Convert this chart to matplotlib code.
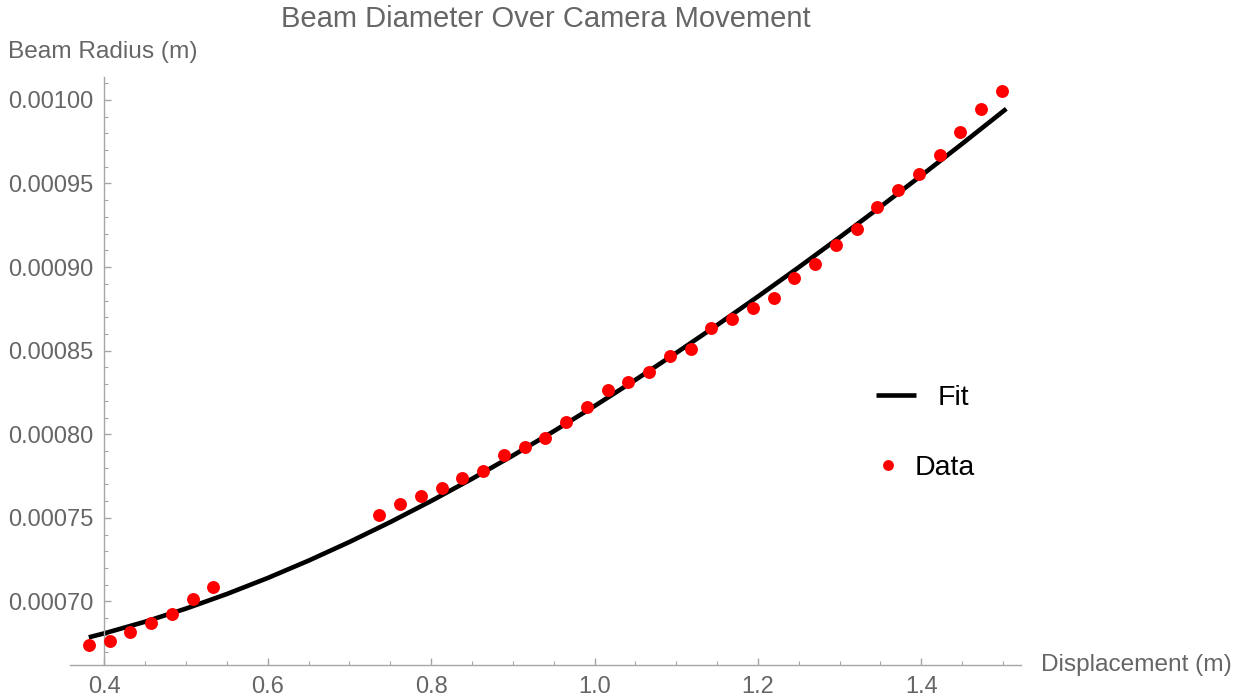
import numpy as np
import matplotlib
matplotlib.use("Agg")
import matplotlib.pyplot as plt
from matplotlib.ticker import MultipleLocator, FormatStrFormatter

plt.rcParams['font.family'] = ['Liberation Sans', 'DejaVu Sans']

# measured beam radius vs camera displacement
disp = [0.3810, 0.4064, 0.4318, 0.4572, 0.4826, 0.5080, 0.5334,
        0.7366, 0.7620, 0.7874, 0.8128, 0.8382, 0.8636, 0.8890, 0.9144,
        0.9398, 0.9652, 0.9906, 1.0160, 1.0414, 1.0668, 1.0922, 1.1176,
        1.1430, 1.1684, 1.1938, 1.2192, 1.2446, 1.2700, 1.2954, 1.3208,
        1.3462, 1.3716, 1.3970, 1.4224, 1.4478, 1.4732, 1.4986]
radius = [0.0006740, 0.0006761, 0.0006815, 0.0006869, 0.0006928, 0.0007012,
          0.0007089, 0.0007519, 0.0007584, 0.0007632, 0.0007680, 0.0007740,
          0.0007781, 0.0007877, 0.0007924, 0.0007978, 0.0008074, 0.0008163,
          0.0008264, 0.0008312, 0.0008372, 0.0008467, 0.0008509, 0.0008634,
          0.0008688, 0.0008753, 0.0008813, 0.0008932, 0.0009016, 0.0009135,
          0.0009225, 0.0009362, 0.0009463, 0.0009559, 0.0009672, 0.0009809,
          0.0009946, 0.0010054]

# fitted curve
fit_z = [0.381, 0.40, 0.45, 0.50, 0.55, 0.60, 0.65, 0.70, 0.75, 0.80, 0.85,
         0.90, 0.95, 1.00, 1.05, 1.10, 1.15, 1.20, 1.25, 1.30, 1.35, 1.40,
         1.45, 1.504]
fit_w = [0.00067855, 0.00068094, 0.00068789, 0.00069574, 0.00070447,
         0.00071403, 0.00072442, 0.00073558, 0.00074747, 0.00076009,
         0.00077336, 0.00078727, 0.00080179, 0.00081688, 0.00083252,
         0.00084866, 0.00086530, 0.00088239, 0.00089990, 0.00091781,
         0.00093611, 0.00095477, 0.00097378, 0.00099467]

W, H = 1241, 700
fig = plt.figure(figsize=(W / 100, H / 100), dpi=100)
ax = fig.add_axes([70 / W, 35 / H, (1021 - 70) / W, (665 - 77) / H])

gray_txt = '#666666'
gray_ax = '#a6a6a6'

fit_line, = ax.plot(fit_z, fit_w, color='black', lw=3.3, solid_capstyle='butt',
                    solid_joinstyle='round', zorder=2)
data_pts, = ax.plot(disp, radius, 'o', color='#ff0000', ms=9.3, mew=0, zorder=3)

ax.set_xlim(0.358, 1.522)
ax.set_ylim(0.000662, 0.0010137)

for s in ['top', 'right']:
    ax.spines[s].set_visible(False)
ax.spines['left'].set_position(('data', 0.4))
for s in ['left', 'bottom']:
    ax.spines[s].set_color(gray_ax)
    ax.spines[s].set_linewidth(1.0)

ax.xaxis.set_major_locator(MultipleLocator(0.2))
ax.xaxis.set_minor_locator(MultipleLocator(0.05))
ax.yaxis.set_major_locator(MultipleLocator(0.00005))
ax.yaxis.set_minor_locator(MultipleLocator(0.00001))
ax.xaxis.set_major_formatter(FormatStrFormatter('%.1f'))
ax.yaxis.set_major_formatter(FormatStrFormatter('%.5f'))

ax.tick_params(which='both', direction='in', color=gray_ax, labelcolor=gray_txt,
               labelsize=17, pad=8)
ax.tick_params(which='major', length=5, width=1.0)
ax.tick_params(which='minor', length=3, width=0.8)

fig.text(546 / W, 1 - 19 / H, 'Beam Diameter Over Camera Movement',
         ha='center', va='center', fontsize=21, color=gray_txt)
fig.text(8 / W, 1 - 52 / H, 'Beam Radius (m)', ha='left', va='center',
         fontsize=17.6, color=gray_txt)
fig.text(1041 / W, 1 - 665 / H, 'Displacement (m)', ha='left', va='center',
         fontsize=17.6, color=gray_txt)

leg1 = ax.legend([fit_line], ['Fit'], loc='center left', frameon=False,
                 bbox_to_anchor=(876 / W, 1 - 398 / H), bbox_transform=fig.transFigure,
                 borderpad=0, borderaxespad=0, fontsize=20.5,
                 handlelength=1.4, handletextpad=0.75)
ax.add_artist(leg1)
ax.legend([data_pts], ['Data'], loc='center left', frameon=False,
          bbox_to_anchor=(880 / W, 1 - 468 / H), bbox_transform=fig.transFigure,
          borderpad=0, borderaxespad=0, fontsize=20.5, markerscale=0.84,
          handlelength=0.55, handletextpad=0.65)

fig.savefig('out.png', dpi=100)
